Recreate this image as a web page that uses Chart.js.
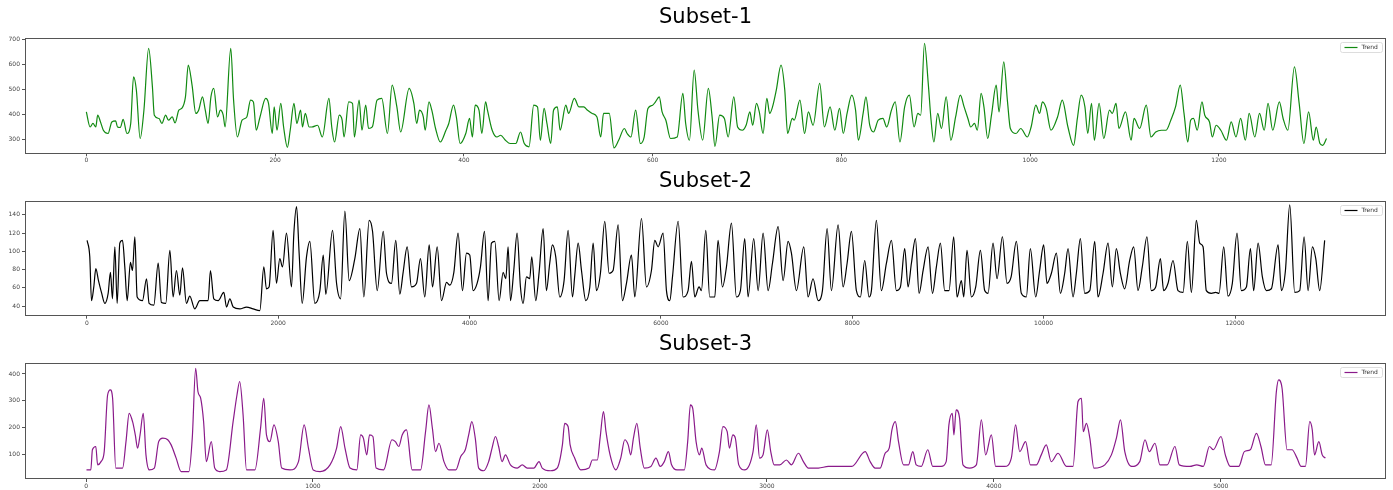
<!DOCTYPE html>
<html>
<head>
<meta charset="utf-8">
<script src="https://cdn.jsdelivr.net/npm/chart.js@4.4.1/dist/chart.umd.min.js"></script>
<style>
  body { margin: 0; background: #fff; width: 1393px; height: 490px; overflow: hidden; position: relative; }
  .panel { position: absolute; left: 0; width: 1393px; }
  canvas { display: block; }
</style>
</head>
<body>
<div class="panel" style="top:0px"><canvas id="c1" width="1393" height="168"></canvas></div>
<div class="panel" style="top:163px"><canvas id="c2" width="1393" height="168"></canvas></div>
<div class="panel" style="top:326px"><canvas id="c3" width="1393" height="164"></canvas></div>
<script>
// tick labels
const s1XTicks = [0, 200, 400, 600, 800, 1000, 1200]
const s1YTicks = [300, 400, 500, 600, 700]
const s2XTicks = [0, 2000, 4000, 6000, 8000, 10000, 12000]
const s2YTicks = [40, 60, 80, 100, 120, 140]
const s3XTicks = [0, 1000, 2000, 3000, 4000, 5000]
const s3YTicks = [100, 200, 300, 400]

// Subset-1 (green)
const s1X = [0,4,7,10,12,15,18,23,27,31,33,36,39,43,47,50,53,57,61,66,70,72,77,80,84,87,91,94,98,101,
  105,108,112,116,119,123,126,129,132,135,139,142,145,147,153,156,160,165,170,174,177,180,184,190,193,197,199,202,206,209,
  213,216,220,223,227,229,232,236,239,245,250,257,260,263,268,271,273,278,282,284,289,292,296,299,303,308,313,319,324,329,
  333,342,347,350,353,357,359,363,366,370,375,381,384,389,392,396,
  402,406,409,412,416,419,423,425,430,435,439,444,449,455,460,464,469,474,478,481,485,488,492,495,499,502,508,511,517,522,
  527,531,536,541,545,548,554,559,564,570,573,577,582,587,591,595,600,603,607,610,614,619,626,632,635,639,644,648,653,659,
  663,666,671,676,680,686,690,695,699,703,706,710,713,717,721,724,727,731,736,740,743,748,750,756,761,765,770,777,782,788,
  793,798,802,806,811,815,818,823,826,830,834,839,844,848,853,857,862,867,872,877,881,
  884,888,892,895,898,902,906,911,916,921,926,930,934,937,941,944,948,951,955,959,964,967,972,976,979,985,990,997,1001,1006,
  1010,1013,1017,1022,1029,1034,1040,1046,1050,1054,1058,1061,1065,1068,1073,1078,1084,1087,1091,1094,
  1101,1107,1110,1116,1123,1128,1133,1139,1144,1149,1154,1159,1163,1167,1170,1173,1177,1182,1185,1190,
  1193,1197,1202,1208,1213,1218,1223,1228,1232,1238,1243,1248,1252,1257,1264,1268,1273,1280,1285,1290,
  1295,1300,1303,1307,1310,1314]
const s1Y = [409,349,363,349,396,369,336,323,369,373,349,347,379,323,363,549,496,303,416,663,509,396,383,363,396,376,389,365,416,423,
  469,596,516,403,416,469,416,363,469,503,389,416,396,349,663,456,309,376,389,456,449,336,389,463,443,323,429,336,443,349,
  268,336,443,363,416,349,403,349,349,356,309,463,349,289,396,376,309,449,443,309,456,336,436,343,349,456,463,323,516,429,
  329,503,443,363,416,389,336,449,416,343,289,336,363,436,389,283,
  323,383,309,436,416,323,449,416,336,309,316,296,283,283,329,283,270,436,429,296,423,363,283,416,429,336,436,403,463,429,
  429,416,403,389,309,403,403,266,296,343,323,309,416,283,309,423,436,449,469,409,376,303,309,483,363,296,576,416,296,503,
  389,272,396,383,309,469,349,336,356,409,356,443,409,323,463,403,429,496,596,496,323,383,376,456,323,409,356,523,349,429,
  336,423,323,403,476,416,296,403,469,356,329,376,383,349,416,449,289,429,476,349,403,
  396,683,523,376,289,403,343,469,296,389,476,429,383,349,363,336,483,429,303,396,516,409,609,449,343,323,343,309,349,436,
  403,449,423,336,389,456,349,276,383,476,429,323,443,296,443,303,416,403,443,343,
  409,296,383,343,436,309,329,336,336,376,429,516,403,289,376,383,336,449,396,369,
  309,356,336,296,369,309,383,296,403,309,403,336,443,336,449,383,336,589,443,283,
  409,296,349,283,276,303]

// Subset-2 (black)
const s2X = [3,31,49,73,94,122,153,188,223,247,268,293,317,345,373,397,422,456,477,502,
  526,582,624,651,700,746,780,825,868,902,937,972,1000,1041,1076,1128,1181,1268,1292,1327,
  1373,1432,1460,1495,1530,1599,1669,1738,1808,1850,1877,1905,1947,1982,2017,2045,2087,2139,2164,2192,
  2219,2251,2296,2331,2383,2436,2471,2498,2568,2610,2652,2697,2742,2801,2854,2895,2951,2986,3035,3098,
  3132,3184,3229,3271,3306,3348,3393,3446,3487,3532,3578,3613,3662,3707,3760,3794,3836,3880,3926,3968,
  4002,4037,4079,4114,4156,4194,4229,4264,4309,4351,4379,4403,4428,4462,4497,4532,4560,4595,4629,4650,
  4692,4727,4769,4803,4838,4866,4901,4943,4988,5030,5076,5100,5135,5170,5215,5257,5292,5326,5368,5413,
  5459,5500,5553,5598,5640,5692,5727,5797,5849,5901,5936,5971,6023,6058,6093,6121,6180,6232,6284,6319,
  6354,6399,6423,6469,6510,6563,6597,6643,6685,6737,6789,6831,6876,6911,6970,7016,7068,7120,7166,7225,
  7277,7329,7364,7416,7493,7538,7590,7643,7688,7737,7782,7852,7904,7946,7991,8043,8085,8130,8175,8200,
  8252,8304,8357,8409,8461,8503,8548,8583,8618,8660,8698,8740,8792,8838,8879,8921,8966,9011,9060,9095,
  9140,9165,9199,9245,9290,9339,9384,9419,9471,9513,9569,9617,9660,9715,9767,9819,9861,9917,9958,10000,
  10035,10081,10133,10175,10220,10255,10307,10342,10384,10429,10482,10534,10568,10621,10673,10718,10760,10802,10847,10899,
  10941,10986,11031,11080,11125,11171,11220,11254,11300,11352,11404,11457,11502,11544,11596,11631,11666,11700,11753,11798,
  11833,11882,11927,11972,12021,12066,12119,12161,12195,12241,12286,12328,12380,12450,12485,12527,12572,12624,12676,12722,
  12764,12809,12844,12885,12937]
const s2Y = [112,94,46,61,81,68,55,43,54,77,48,105,43,109,112,83,46,88,79,116,
  50,46,70,43,41,87,44,43,101,50,79,52,82,43,51,37,46,46,79,48,
  46,55,39,48,39,37,39,37,35,83,59,61,123,65,92,83,120,61,120,149,
  98,43,94,111,43,57,96,53,123,65,48,144,68,92,125,50,134,122,57,122,
  76,65,112,53,77,105,61,65,92,50,107,61,105,46,66,63,77,120,57,98,
  96,57,65,83,122,46,109,111,46,77,70,105,46,79,120,61,43,72,70,94,
  46,77,125,57,87,107,94,50,68,123,50,74,109,79,46,61,109,57,76,133,
  76,79,129,46,65,96,50,136,61,79,112,105,120,57,46,72,133,50,57,89,
  50,61,57,123,50,50,112,61,83,131,50,57,114,50,114,57,120,57,87,127,
  68,111,98,57,105,50,70,46,57,125,57,129,61,87,122,57,50,90,50,57,
  134,57,87,112,57,61,103,61,87,114,54,79,105,54,83,109,57,57,116,50,
  68,50,101,50,61,101,57,54,109,70,116,65,72,111,54,50,103,50,79,107,
  65,76,98,54,76,103,50,76,114,54,57,111,50,76,109,61,103,76,59,90,
  105,57,83,116,57,61,92,57,65,90,57,55,111,55,134,109,105,57,54,55,
  54,105,51,65,120,57,61,103,57,109,72,57,59,107,57,79,151,55,57,116,
  57,105,92,57,112]

// Subset-3 (purple)
const s3X = [2,21,28,43,51,66,80,95,107,117,131,161,176,190,205,217,227,238,252,264,
  279,301,320,338,360,375,397,419,453,468,483,493,505,518,530,552,567,589,618,648,
  665,677,692,707,744,769,783,795,810,828,847,862,899,936,961,980,1001,1031,1075,1104,
  1122,1141,1163,1193,1210,1222,1237,1249,1264,1278,1311,1348,1363,1378,1393,1412,1437,1474,1496,1511,
  1526,1540,1555,1577,1599,1629,1651,1671,1686,1700,1715,1730,1752,1774,1789,1804,1818,1833,1848,1870,
  1900,1922,1944,1973,1996,2010,2047,2076,2099,2109,2124,2133,2153,2180,2216,2231,2253,2265,2280,2291,
  2309,2334,2356,2374,2389,2400,2412,2427,2442,2460,2489,2511,2530,2548,2566,2580,2604,2636,2651,2663,
  2673,2688,2703,2713,2732,2769,2791,2806,2825,2835,2850,2861,2876,2902,2939,2953,2968,2983,3002,3017,
  3032,3057,3086,3108,3139,3161,3183,3227,3271,3330,3374,3433,3455,3477,3499,3521,3539,3551,3566,3580,
  3602,3624,3643,3658,3680,3709,3731,3768,3790,3802,3817,3824,3834,3849,3864,3893,3923,3945,3964,3989,
  4008,4048,4077,4096,4114,4140,4161,4187,4209,4231,4253,4283,4320,4349,4371,4386,4394,4408,4423,4441,
  4489,4518,4540,4558,4577,4607,4643,4666,4685,4710,4732,4764,4798,4817,4864,4894,4923,4950,4967,5001,
  5020,5042,5079,5104,5130,5157,5177,5197,5222,5245,5255,5270,5292,5314,5336,5354,5373,5392,5403,5413,
  5432,5447,5461]
const s3Y = [44,44,119,131,63,75,112,322,341,310,51,51,149,254,223,174,125,174,254,100,
  44,51,149,162,156,137,88,38,38,162,421,335,310,223,75,149,51,38,44,223,
  322,372,248,44,44,199,310,174,149,211,149,51,44,75,211,125,44,38,63,125,
  205,125,51,44,174,162,100,174,168,51,44,156,149,131,174,193,44,44,186,285,
  199,112,143,75,44,44,94,119,174,223,162,51,41,75,125,168,131,75,100,63,
  51,63,51,51,75,51,41,51,137,217,205,137,88,44,51,81,81,162,260,186,
  100,44,88,156,137,100,162,217,125,51,57,88,57,75,112,63,44,44,149,285,
  273,149,100,125,63,44,112,205,186,125,174,162,63,44,112,211,88,100,193,112,
  63,63,81,63,106,75,51,51,57,57,57,112,75,51,51,106,125,193,223,149,
  63,63,112,63,57,119,57,57,75,211,254,174,267,236,63,51,63,230,100,174,
  57,57,88,211,112,149,63,63,100,137,75,106,57,57,298,310,186,217,162,51,
  63,100,162,230,112,57,75,156,112,143,63,63,131,63,57,63,57,131,119,168,
  100,57,57,112,119,180,131,63,63,335,378,347,119,119,88,57,57,223,193,100,
  149,100,88]

Chart.defaults.font.family = 'DejaVu Sans'

// box round the plot plus a small "Trend" legend in the top right corner (matplotlib style)
const frame = {
  id: 'frame',
  afterDraw(chart) {
    const ctx = chart.ctx
    const a = chart.chartArea
    const ds = chart.data.datasets[0]
    ctx.save()
    ctx.strokeStyle = '#555'
    ctx.lineWidth = 1
    ctx.strokeRect(Math.round(a.left) + 0.5, Math.round(a.top) + 0.5, Math.round(a.right - a.left) - 1, Math.round(a.bottom - a.top) - 1)

    const bx = Math.round(a.right) - 45.5
    const by = Math.round(a.top) + 4.5
    ctx.fillStyle = 'rgba(255,255,255,0.8)'
    ctx.strokeStyle = '#ddd'
    ctx.beginPath()
    ctx.roundRect(bx, by, 42, 10, 2)
    ctx.fill()
    ctx.stroke()
    const my = by + 5
    ctx.strokeStyle = ds.borderColor
    ctx.lineWidth = ds.borderWidth
    ctx.beginPath()
    ctx.moveTo(bx + 4, my)
    ctx.lineTo(bx + 17, my)
    ctx.stroke()
    ctx.fillStyle = '#333'
    ctx.font = '6px "DejaVu Sans"'
    ctx.textBaseline = 'middle'
    ctx.fillText(ds.label, bx + 21, my)
    ctx.restore()
  }
}

function drawSubset(id, title, xs, ys, color, xMin, xMax, xTicks, yMin, yMax, yTicks, padTop, padBottom, xAxisH) {
  new Chart(document.getElementById(id), {
    type: 'line',
    data: {
      datasets: [{
        label: 'Trend',
        data: xs.map((x, i) => ({ x: x, y: ys[i] })),
        borderColor: color,
        backgroundColor: color,
        borderWidth: 1.2,
        pointRadius: 0,
        cubicInterpolationMode: 'monotone'
      }]
    },
    options: {
      responsive: false,
      animation: false,
      devicePixelRatio: 1,
      layout: { padding: { left: 0, right: 7, top: 0, bottom: 0 } },
      plugins: {
        title: {
          display: true,
          text: title,
          fullSize: false,
          color: '#000',
          font: { size: 21, weight: 'normal' },
          padding: { top: padTop, bottom: padBottom }
        },
        legend: { display: false },
        tooltip: { enabled: false }
      },
      scales: {
        x: {
          type: 'linear',
          min: xMin,
          max: xMax,
          afterFit: s => { s.height = xAxisH },
          afterBuildTicks: s => { s.ticks = xTicks.map(v => ({ value: v })) },
          grid: { drawOnChartArea: false, tickLength: 3, color: '#555' },
          border: { display: false },
          ticks: {
            autoSkip: false,
            maxRotation: 0,
            padding: 1,
            color: '#444',
            font: { size: 6 },
            callback: v => String(v)
          }
        },
        y: {
          min: yMin,
          max: yMax,
          afterFit: s => { s.width = 25 },
          afterBuildTicks: s => { s.ticks = yTicks.map(v => ({ value: v })) },
          grid: { drawOnChartArea: false, tickLength: 3, color: '#555' },
          border: { display: false },
          ticks: {
            autoSkip: false,
            padding: 2,
            color: '#444',
            font: { size: 6 },
            callback: v => String(v)
          }
        }
      }
    },
    plugins: [frame]
  })
}

drawSubset('c1', 'Subset-1', s1X, s1Y, '#118a11', -65, 1377, s1XTicks, 244, 706, s1YTicks, 5.4, 6.9, 14.7)
drawSubset('c2', 'Subset-2', s2X, s2Y, '#000000', -646, 13578, s2XTicks, 29.5, 155.5, s2YTicks, 6.4, 6.1, 15.3)
drawSubset('c3', 'Subset-3', s3X, s3Y, '#8a1a8a', -269, 5728, s3XTicks, 10.5, 439.5, s3YTicks, 6.4, 5.7, 11)
</script>
</body>
</html>
